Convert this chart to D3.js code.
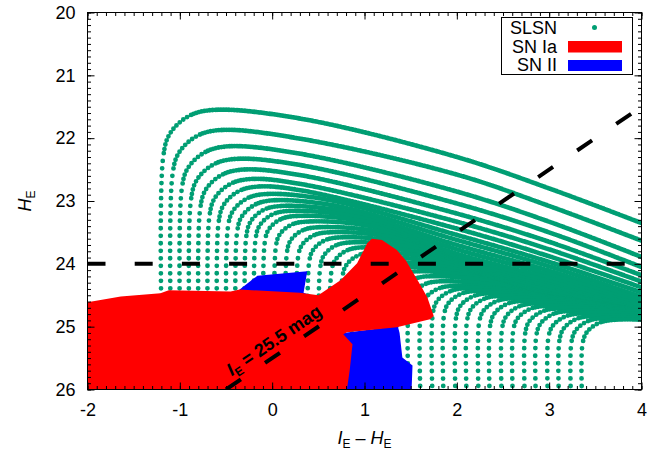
<!DOCTYPE html>
<html><head><meta charset="utf-8">
<script src="https://cdn.jsdelivr.net/npm/d3@7"></script>
<style>
body{margin:0;background:#fff}
svg{display:block}
text{font-family:"Liberation Sans",Arial,Helvetica,sans-serif;fill:#000}
</style>
</head><body>
<svg id="c" width="672" height="450"></svg>
<script>
// ---------------- data ----------------
const xTicks = [-2, -1, 0, 1, 2, 3, 4];
const xTickLabels = ["-2", "-1", "0", "1", "2", "3", "4"];
const yTicks = [20, 21, 22, 23, 24, 25, 26];
const yTickLabels = ["20", "21", "22", "23", "24", "25", "26"];
const legendLabels = ["SLSN", "SN Ia", "SN II"];
const hLimit = 24;                              // H_E = 24 limit
const iLimitLabel = "= 25.5 mag";
const iLimitLine = [[-0.5, 26.0], [4.0, 21.5]]; // I_E = 25.5  ->  H_E = 25.5 - (I_E - H_E)

// SLSN tracks (colour I_E-H_E, magnitude H_E)
const slsnTop = [
  [[-1.18,26.3],[-1.18,22.30],[-1.106,21.925],[-0.905,21.65],[-0.63,21.55],[0.31,21.69],[2.0,22.30],[3.0,22.80],[4.05,23.38]],
  [[-1.08,26.3],[-1.08,22.59],[-1.009,22.23],[-0.815,21.966],[-0.55,21.87],[0.31,22.01],[2.0,22.58],[3.0,23.08],[4.05,23.66]],
  [[-0.98,26.3],[-0.98,22.82],[-0.912,22.475],[-0.725,22.222],[-0.47,22.13],[0.31,22.25],[2.0,22.85],[3.0,23.33],[4.05,23.92]],
  [[-0.88,26.3],[-0.88,22.99],[-0.814,22.66],[-0.635,22.418],[-0.39,22.33],[0.31,22.43],[2.0,23.04],[3.0,23.50],[4.05,24.08]],
  [[-0.78,26.3],[-0.78,23.13],[-0.717,22.815],[-0.545,22.584],[-0.31,22.50],[0.31,22.59],[2.0,23.20],[3.0,23.65],[4.05,24.21]],
  [[-0.68,26.3],[-0.68,23.25],[-0.62,22.95],[-0.455,22.73],[-0.23,22.65],[0.31,22.73],[2.0,23.33],[3.0,23.77],[4.05,24.31]],
  [[-0.58,26.3],[-0.58,23.34],[-0.522,23.055],[-0.365,22.846],[-0.15,22.77],[0.31,22.83],[2.0,23.44],[3.0,23.88],[4.05,24.40]],
  [[-0.48,26.3],[-0.48,23.43],[-0.425,23.16],[-0.275,22.962],[-0.07,22.89],[0.60,22.98],[2.0,23.54],[3.0,23.97],[4.05,24.48]],
  [[-0.38,26.3],[-0.38,23.50],[-0.328,23.245],[-0.185,23.058],[0.01,22.99],[0.70,23.08],[2.0,23.62],[3.0,24.04],[4.05,24.55]],
  [[-0.28,26.3],[-0.28,23.56],[-0.23,23.32],[-0.095,23.144],[0.09,23.08],[0.80,23.17],[2.0,23.70],[3.0,24.11],[4.05,24.60]],
  [[-0.18,26.3],[-0.18,23.61],[-0.133,23.385],[-0.005,23.22],[0.17,23.16],[0.90,23.25],[2.0,23.77],[3.0,24.17],[4.05,24.65]],
  [[-0.08,26.3],[-0.08,23.66],[-0.036,23.45],[0.085,23.296],[0.25,23.24],[1.00,23.33],[2.0,23.84],[3.0,24.23],[4.05,24.69]]
];
const slsnMid = [
  [[0.04,26.3],[0.04,23.73],[0.083,23.53],[0.20,23.384],[0.36,23.33],[1.10,23.41],[2.0,23.90],[3.0,24.28],[4.05,24.72]],
  [[0.16,26.3],[0.16,23.82],[0.203,23.62],[0.32,23.474],[0.48,23.42],[1.20,23.50],[2.1,23.98],[3.0,24.33],[4.05,24.75]],
  [[0.28,26.3],[0.28,23.90],[0.323,23.70],[0.44,23.554],[0.60,23.50],[1.30,23.58],[2.2,24.06],[3.1,24.40],[4.05,24.77]],
  [[0.40,26.3],[0.40,23.98],[0.443,23.78],[0.56,23.634],[0.72,23.58],[1.40,23.66],[2.3,24.13],[3.1,24.44],[4.05,24.79]],
  [[0.52,26.3],[0.52,24.06],[0.563,23.86],[0.68,23.714],[0.84,23.66],[1.50,23.74],[2.4,24.20],[3.2,24.50],[4.05,24.80]],
  [[0.64,26.3],[0.64,24.14],[0.683,23.94],[0.80,23.794],[0.96,23.74],[1.60,23.82],[2.5,24.27],[3.2,24.54],[4.05,24.81]],
  [[0.76,26.3],[0.76,24.22],[0.803,24.02],[0.92,23.874],[1.08,23.82],[1.70,23.90],[2.6,24.33],[3.3,24.58],[4.05,24.82]],
  [[0.88,26.3],[0.88,24.30],[0.923,24.10],[1.04,23.954],[1.20,23.90],[1.80,23.98],[2.7,24.39],[3.4,24.63],[4.05,24.83]],
  [[1.00,26.3],[1.00,24.38],[1.043,24.18],[1.16,24.034],[1.32,23.98],[1.90,24.06],[2.8,24.45],[3.5,24.67],[4.05,24.84]],
  [[1.12,26.3],[1.12,24.45],[1.163,24.25],[1.28,24.104],[1.44,24.05],[2.00,24.13],[2.9,24.50],[4.05,24.85]],
  [[1.24,26.3],[1.24,24.52],[1.283,24.32],[1.40,24.174],[1.56,24.12],[2.15,24.20],[3.0,24.55],[4.05,24.86]],
  [[1.36,26.3],[1.36,24.60],[1.403,24.40],[1.52,24.254],[1.68,24.20],[2.30,24.27],[3.1,24.60],[4.05,24.86]],
  [[1.48,26.3],[1.48,24.68],[1.523,24.48],[1.64,24.334],[1.80,24.28],[2.45,24.35],[3.2,24.65],[4.05,24.86]]
];
const slsnBottom = [
  [[1.61,26.3],[1.61,24.75],[1.657,24.55],[1.785,24.404],[1.96,24.35],[2.60,24.42],[3.3,24.70],[4.05,24.87]],
  [[1.74,26.3],[1.74,24.79],[1.787,24.59],[1.915,24.444],[2.09,24.39],[2.75,24.46],[3.4,24.70],[4.05,24.86]],
  [[1.86,26.3],[1.86,24.83],[1.907,24.63],[2.035,24.484],[2.21,24.43],[2.90,24.50],[4.05,24.82]],
  [[1.99,26.3],[1.99,24.87],[2.037,24.67],[2.165,24.524],[2.34,24.47],[3.05,24.54],[4.05,24.79]],
  [[2.11,26.3],[2.11,24.91],[2.157,24.71],[2.285,24.564],[2.46,24.51],[3.20,24.57],[4.05,24.77]],
  [[2.24,26.3],[2.24,24.95],[2.287,24.75],[2.415,24.604],[2.59,24.55],[3.35,24.61],[4.05,24.76]],
  [[2.36,26.3],[2.36,24.99],[2.407,24.79],[2.535,24.644],[2.71,24.59],[3.50,24.65],[4.05,24.75]],
  [[2.49,26.3],[2.49,25.03],[2.537,24.83],[2.665,24.684],[2.84,24.63],[3.65,24.68],[4.05,24.75]],
  [[2.61,26.3],[2.61,25.07],[2.657,24.87],[2.785,24.724],[2.96,24.67],[3.80,24.72],[4.05,24.76]],
  [[2.74,26.3],[2.74,25.11],[2.787,24.91],[2.915,24.764],[3.09,24.71],[4.05,24.76]],
  [[2.86,26.3],[2.86,25.15],[2.907,24.95],[3.035,24.804],[3.21,24.75],[4.05,24.78]],
  [[2.99,26.3],[2.99,25.19],[3.037,24.99],[3.165,24.844],[3.34,24.79],[4.05,24.80]],
  [[3.11,26.3],[3.11,25.23],[3.157,25.03],[3.285,24.884],[3.46,24.83],[4.05,24.83]],
  [[3.24,26.3],[3.24,25.26],[3.287,25.06],[3.415,24.914],[3.59,24.86],[4.05,24.86]],
  [[3.36,26.3],[3.36,25.29],[3.407,25.09],[3.535,24.944],[3.71,24.89],[4.05,24.89]]
];

// SN Ia region outline
const snIa = [
  [-2.0,24.61],[-1.64,24.52],[-1.21,24.47],[-1.12,24.42],[-0.45,24.44],[-0.35,24.41],
  [0.30,24.46],[0.50,24.50],[0.74,24.26],[0.92,23.99],[1.00,23.76],[1.03,23.67],[1.08,23.60],
  [1.19,23.62],[1.35,23.78],[1.45,23.95],[1.53,24.15],[1.61,24.35],[1.68,24.53],[1.75,24.83],
  [1.71,24.88],[1.35,25.01],[0.81,25.09],[0.77,25.12],[0.87,25.28],[0.84,25.69],[0.81,26.0],
  [-2.0,26.0]
];
// SN II region outline
const snII = [
  [-0.38,24.44],[-0.16,24.19],[0.38,24.12],[0.34,24.46],[0.60,24.60],[0.77,25.10],
  [1.36,24.99],[1.38,25.10],[1.41,25.49],[1.52,25.62],[1.51,26.0],[0.50,26.0],[0.0,24.6]
];

// ---------------- drawing ----------------
const GREEN = "#009e73", RED = "#ff0000", BLUE = "#0000ff";
const svg = d3.select("#c");
const x = d3.scaleLinear().domain([-2, 4]).range([87.5, 641.5]);
const y = d3.scaleLinear().domain([20, 26]).range([12.5, 389.5]);
const X0 = x(-2), X1 = x(4), Y0 = y(20), Y1 = y(26);

svg.append("defs").append("clipPath").attr("id", "clip")
  .append("rect").attr("x", X0).attr("y", Y0).attr("width", X1 - X0).attr("height", Y1 - Y0);

const plot = svg.append("g").attr("clip-path", "url(#clip)");

// SLSN tracks: sparse dots on the rising column, denser around the knee, packed after it
const trackLine = d3.line().x(d => x(d[0])).y(d => y(d[1])).curve(d3.curveCatmullRom.alpha(0.5));
const allTracks = [...slsnTop, ...slsnMid, ...slsnBottom];
const dist = (a, b) => Math.hypot(x(a[0]) - x(b[0]), y(a[1]) - y(b[1]));
allTracks.forEach(t => {
  const p = plot.append("path").attr("d", trackLine(t))
    .attr("fill", "none").attr("stroke", GREEN).attr("stroke-width", 4.8)
    .attr("stroke-linecap", "round");
  const L = p.node().getTotalLength();
  const L1 = dist(t[0], t[1]);
  const L2 = L1 + dist(t[1], t[2]) + dist(t[2], t[3]);
  const L3 = L2 + dist(t[3], t[4]);
  const arr = []; let s = 0;
  while (s < L1) { arr.push(0, 7.5); s += 7.5; }
  while (s < L2) { arr.push(0, 4.5); s += 4.5; }
  while (s < L3) { arr.push(0, 2.8); s += 2.8; }
  while (s < L + 2) { arr.push(0, 1.6); s += 1.6; }
  p.attr("stroke-dasharray", arr.join(","));
});

// SN II then SN Ia regions
const area = d3.line().x(d => x(d[0])).y(d => y(d[1]));
plot.append("path").attr("d", area(snII) + "Z").attr("fill", BLUE);
plot.append("path").attr("d", area(snIa) + "Z").attr("fill", RED);

// limit lines
plot.append("line")
  .attr("x1", X0).attr("x2", X1).attr("y1", y(hLimit)).attr("y2", y(hLimit))
  .attr("stroke", "#000").attr("stroke-width", 4).attr("stroke-dasharray", "18,29.2");
plot.append("path").attr("d", area(iLimitLine))
  .attr("stroke", "#000").attr("stroke-width", 4).attr("fill", "none")
  .attr("stroke-dasharray", "18,29.2");

// rotated label along the I_E line
const ang = Math.atan2(y(iLimitLine[1][1]) - y(iLimitLine[0][1]), x(iLimitLine[1][0]) - x(iLimitLine[0][0])) * 180 / Math.PI;
const lab = svg.append("text")
  .attr("transform", `translate(277.5,345.5) rotate(${ang})`)
  .attr("text-anchor", "middle").attr("font-size", 18).attr("font-weight", "bold");
lab.append("tspan").attr("font-style", "italic").text("I");
lab.append("tspan").attr("font-size", 12).attr("dy", 4).text("E");
lab.append("tspan").attr("dy", -4).text(" " + iLimitLabel);

// axes (ticks inward on all four sides)
function drawAxis(gen, tr, vals, size, labels, pad) {
  const a = gen.tickValues(vals).tickSize(size).tickPadding(pad || 0)
    .tickFormat(labels ? (d, i) => labels[i] : "");
  const g = svg.append("g").attr("transform", tr).call(a);
  g.select(".domain").remove();
  g.selectAll("line").attr("stroke", "#000").attr("stroke-width", 1);
  g.selectAll("text").attr("font-size", 18).attr("fill", "#000")
    .attr("font-family", '"Liberation Sans",Arial,sans-serif');
  return g;
}
const xMinor = d3.range(-20, 41).map(v => v / 10);
const yMinor = d3.range(200, 261).map(v => v / 10);
drawAxis(d3.axisBottom(x), `translate(0,${Y1})`, xMinor, -3.5);
drawAxis(d3.axisTop(x), `translate(0,${Y0})`, xMinor, -3.5);
drawAxis(d3.axisLeft(y), `translate(${X0},0)`, yMinor, -3.5);
drawAxis(d3.axisRight(y), `translate(${X1},0)`, yMinor, -3.5);
drawAxis(d3.axisBottom(x), `translate(0,${Y1})`, xTicks, -7, xTickLabels, 14);
drawAxis(d3.axisTop(x), `translate(0,${Y0})`, xTicks, -7);
drawAxis(d3.axisLeft(y), `translate(${X0},0)`, yTicks, -7, yTickLabels, 12);
drawAxis(d3.axisRight(y), `translate(${X1},0)`, yTicks, -7);

svg.append("rect").attr("x", X0).attr("y", Y0).attr("width", X1 - X0).attr("height", Y1 - Y0)
  .attr("fill", "none").attr("stroke", "#000").attr("stroke-width", 1);

// axis titles
const yt = svg.append("text").attr("transform", `translate(31,${(Y0 + Y1) / 2}) rotate(-90)`)
  .attr("text-anchor", "middle").attr("font-size", 18);
yt.append("tspan").attr("font-style", "italic").text("H");
yt.append("tspan").attr("font-size", 12).attr("dy", 4).text("E");

const xt = svg.append("text").attr("x", (X0 + X1) / 2).attr("y", 444)
  .attr("text-anchor", "middle").attr("font-size", 18);
xt.append("tspan").attr("font-style", "italic").text("I");
xt.append("tspan").attr("font-size", 12).attr("dy", 4).text("E");
xt.append("tspan").attr("dy", -4).text(" \u2013 ");
xt.append("tspan").attr("font-style", "italic").text("H");
xt.append("tspan").attr("font-size", 12).attr("dy", 4).text("E");

// legend
const lg = svg.append("g");
lg.append("rect").attr("x", 501.5).attr("y", 17.5).attr("width", 131).attr("height", 57)
  .attr("fill", "#fff").attr("stroke", "#000").attr("stroke-width", 1);
const lgY = [33.5, 52.5, 71];
legendLabels.forEach((t, i) => {
  lg.append("text").attr("x", 557).attr("y", lgY[i]).attr("text-anchor", "end")
    .attr("font-size", 18).text(t);
});
lg.append("circle").attr("cx", 594.5).attr("cy", 27.5).attr("r", 2.5).attr("fill", GREEN);
lg.append("rect").attr("x", 568).attr("y", 41).attr("width", 54).attr("height", 11.5).attr("fill", RED);
lg.append("rect").attr("x", 568).attr("y", 60).attr("width", 54).attr("height", 11).attr("fill", BLUE);
</script>
</body></html>
